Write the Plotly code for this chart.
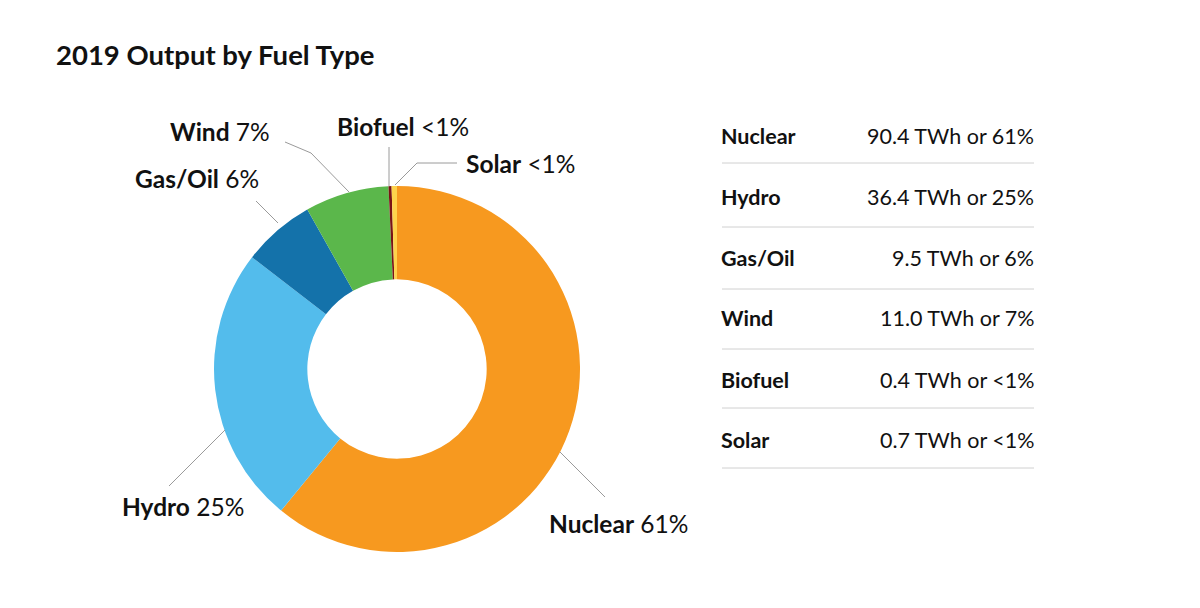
import plotly.graph_objects as go

# ---- data ----
fuels = ["Nuclear", "Hydro", "Gas/Oil", "Wind", "Biofuel", "Solar"]
twh = [90.4, 36.4, 9.5, 11.0, 0.4, 0.7]
pct_labels = ["61%", "25%", "6%", "7%", "<1%", "<1%"]
colors = ["#F7991F", "#53BCEC", "#1472AA", "#5BB74B", "#7A1315", "#FDD34C"]

# page has an 8px body margin; figure sized to fit the window
OFF = 8
W, H = 1184, 592
PAD = 3  # annotation inner padding compensation
def px(x):
    return (x - OFF) / W
def py(y):
    return 1 - (y - OFF) / H

# pie geometry (page pixels)
cx, cy, r = 397, 369, 183

fig = go.Figure()
fig.add_trace(go.Pie(
    labels=fuels, values=twh, hole=0.49, sort=False, direction="clockwise",
    rotation=0, textinfo="none", hoverinfo="label+value+percent",
    marker=dict(colors=colors, line=dict(width=0)),
    domain=dict(x=[px(cx - r), px(cx + r)], y=[py(cy + r), py(cy - r)]),
    showlegend=False,
))

FONT = "Lato"
ink = "#111111"
annotations = []
shapes = []

# title
annotations.append(dict(text="<b>2019 Output by Fuel Type</b>", x=px(57 - PAD), y=py(54),
                        xanchor="left", yanchor="middle", showarrow=False,
                        font=dict(family=FONT, size=27.5, color=ink)))

# slice labels: left x, center y
label_pos = {
    "Nuclear": (550, 523),
    "Hydro": (123, 506),
    "Gas/Oil": (136, 179),
    "Wind": (171, 132),
    "Biofuel": (338, 127),
    "Solar": (467, 163),
}
for f, p in zip(fuels, pct_labels):
    lx, ly = label_pos[f]
    annotations.append(dict(text=f"<b>{f}</b> {p}", x=px(lx - PAD), y=py(ly),
                            xanchor="left", yanchor="middle", showarrow=False,
                            font=dict(family=FONT, size=24.5, color=ink)))

# leader lines (page-pixel polylines)
leaders = [
    [(560, 452), (605, 497)],
    [(225, 430), (169, 486)],
    [(256, 201), (278, 223)],
    [(285, 142), (311, 153), (349, 192)],
    [(389, 147), (389, 186)],
    [(457, 163), (417, 163), (395, 185)],
]
for pts in leaders:
    path = "M " + " L ".join(f"{px(x)},{py(y)}" for x, y in pts)
    shapes.append(dict(type="path", path=path, xref="paper", yref="paper",
                       line=dict(color="#9A9A9A", width=1)))

# table
row_y = [136, 197, 258, 318, 380, 440]
sep_y = [163, 227, 289, 349, 408, 468]
for f, v, p, y, sy in zip(fuels, twh, pct_labels, row_y, sep_y):
    annotations.append(dict(text=f"<b>{f}</b>", x=px(722 - PAD), y=py(y),
                            xanchor="left", yanchor="middle", showarrow=False,
                            font=dict(family=FONT, size=21.5, color=ink)))
    annotations.append(dict(text=f"{v:.1f} TWh or {p}", x=px(1033 + PAD), y=py(y),
                            xanchor="right", yanchor="middle", showarrow=False,
                            font=dict(family=FONT, size=21.5, color=ink)))
    shapes.append(dict(type="line", xref="paper", yref="paper",
                       x0=px(722), x1=px(1034), y0=py(sy), y1=py(sy),
                       line=dict(color="#D0D0D0", width=1)))

fig.update_layout(
    width=W, height=H, margin=dict(l=0, r=0, t=0, b=0),
    paper_bgcolor="white", plot_bgcolor="white",
    annotations=annotations, shapes=shapes,
)
fig.write_html("out.html")
